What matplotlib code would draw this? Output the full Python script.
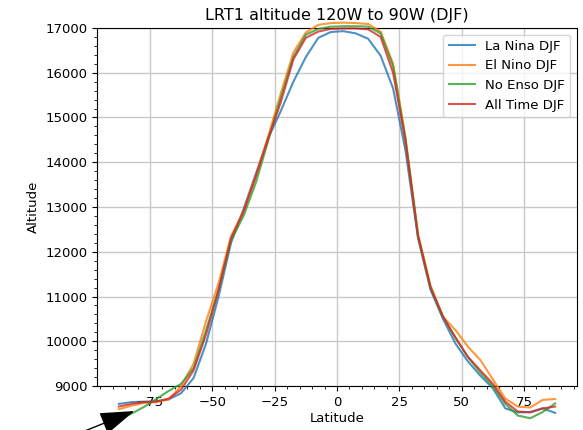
import matplotlib
matplotlib.use("Agg")
import matplotlib.pyplot as plt
import numpy as np

lats = [-87.5, -82.5, -77.5, -72.5, -67.5, -62.5, -57.5, -52.5, -47.5, -42.5,
        -37.5, -32.5, -27.5, -22.5, -17.5, -12.5, -7.5, -2.5, 2.5, 7.5,
        12.5, 17.5, 22.5, 27.5, 32.5, 37.5, 42.5, 47.5, 52.5, 57.5,
        62.5, 67.5, 72.5, 77.5, 82.5, 87.5]

la_nina = [8600, 8640, 8650, 8660, 8700, 8840, 9180, 9950, 11000, 12200,
           12950, 13750, 14550, 15150, 15800, 16350, 16780, 16910, 16930, 16880,
           16760, 16380, 15650, 14250, 12300, 11150, 10500, 9950, 9550, 9230,
           8950, 8500, 8410, 8420, 8500, 8400]
el_nino = [8480, 8560, 8620, 8640, 8700, 9000, 9500, 10450, 11300, 12350,
           12900, 13700, 14600, 15550, 16450, 16900, 17070, 17110, 17120, 17110,
           17090, 16920, 16200, 14550, 12400, 11250, 10550, 10250, 9880, 9580,
           9150, 8720, 8540, 8520, 8690, 8710]
no_enso = [8250, 8380, 8530, 8710, 8890, 9050, 9400, 10250, 11150, 12250,
           12800, 13550, 14500, 15450, 16350, 16850, 16980, 17030, 17040, 17040,
           17030, 16880, 16150, 14500, 12350, 11200, 10550, 10080, 9650, 9300,
           9000, 8600, 8340, 8280, 8420, 8610]
all_time = [8540, 8600, 8640, 8650, 8720, 8920, 9350, 10150, 11150, 12300,
            12900, 13700, 14550, 15350, 16300, 16780, 16920, 16980, 16990, 16990,
            16970, 16800, 16000, 14450, 12350, 11200, 10550, 10080, 9650, 9350,
            9050, 8650, 8430, 8410, 8500, 8540]

series = [("La Nina DJF", la_nina), ("El Nino DJF", el_nino),
          ("No Enso DJF", no_enso), ("All Time DJF", all_time)]

fig = plt.figure(figsize=(5.83, 4.30), dpi=100)
ax = fig.add_axes([0.1664, 0.1023, 0.8233, 0.8326])

for name, vals in series:
    ax.plot(lats, vals, label=name, lw=1.5, alpha=0.8, clip_on=False, zorder=3)

ax.set_ylim(9000, 17000)
ax.set_xlim(-96.25, 96.25)
ax.set_xticks([-75, -50, -25, 0, 25, 50, 75])
ax.minorticks_on()
ax.grid(True, which="major", color="#c8c8c8", lw=1)
ax.set_axisbelow(True)
ax.tick_params(labelsize=9.5)

ax.set_title("LRT1 altitude 120W to 90W (DJF)", fontsize=11.5)
ax.set_xlabel("Latitude", fontsize=9.5, labelpad=2)
ax.set_ylabel("Altitude", fontsize=9.5)
ax.legend(loc="upper right", fontsize=9.5)

ax.annotate("", xy=(-80.3, 8464), xycoords="data",
            xytext=(60, -11), textcoords="figure pixels",
            arrowprops=dict(arrowstyle="-|>,head_length=1.2,head_width=0.4",
                            mutation_scale=18, color="black", lw=1),
            annotation_clip=False)

fig.savefig("out.png", dpi=100)
